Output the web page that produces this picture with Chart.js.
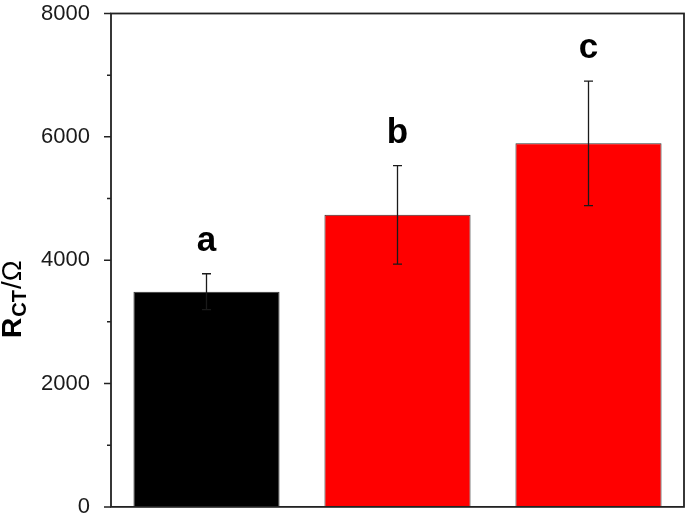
<!DOCTYPE html>
<html>
<head>
<meta charset="utf-8">
<script src="https://cdn.jsdelivr.net/npm/chart.js@4"></script>
<style>
  body { margin: 0; background: #fff; }
</style>
</head>
<body>
<canvas id="rctChart" width="688" height="520"></canvas>
<script>
// Data
const samples = ['a', 'b', 'c'];
const rctValues = [3490, 4735, 5895];
const rctErrors = [290, 800, 1010];
const barColors = ['#000000', '#ff0000', '#ff0000'];
const yTicks = [0, 2000, 4000, 6000, 8000];
const yMinorTicks = [1000, 3000, 5000, 7000];

// error bars, letters above bars, frame + ticks, axis title
const extras = {
    id: 'extras',
    afterDatasetsDraw(chart) {
        const ctx = chart.ctx;
        const y = chart.scales.y;
        const area = chart.chartArea;
        const meta = chart.getDatasetMeta(0);

        ctx.save();
        meta.data.forEach(function (bar, i) {
            const x = bar.x;
            const top = y.getPixelForValue(rctValues[i] + rctErrors[i]);
            const bot = y.getPixelForValue(rctValues[i] - rctErrors[i]);
            ctx.strokeStyle = '#1a1a1a';
            ctx.lineWidth = 1.3;
            ctx.beginPath();
            ctx.moveTo(x, top); ctx.lineTo(x, bot);
            ctx.moveTo(x - 4.5, top); ctx.lineTo(x + 4.5, top);
            ctx.moveTo(x - 4.5, bot); ctx.lineTo(x + 4.5, bot);
            ctx.stroke();

            ctx.fillStyle = '#000';
            ctx.font = 'bold 35px "Liberation Sans", Arial, sans-serif';
            ctx.textAlign = 'center';
            ctx.textBaseline = 'alphabetic';
            ctx.fillText(samples[i], x, top - 23);
        });

        // frame
        ctx.strokeStyle = '#222';
        ctx.lineWidth = 1.8;
        ctx.strokeRect(area.left, area.top, area.right - area.left, area.bottom - area.top);

        // ticks
        ctx.lineWidth = 1.5;
        ctx.beginPath();
        yTicks.forEach(function (v) {
            const py = y.getPixelForValue(v);
            ctx.moveTo(area.left - 7, py); ctx.lineTo(area.left, py);
        });
        yMinorTicks.forEach(function (v) {
            const py = y.getPixelForValue(v);
            ctx.moveTo(area.left - 4, py); ctx.lineTo(area.left, py);
        });
        ctx.stroke();

        // y title: R_CT / Ω
        ctx.translate(21, 338);
        ctx.rotate(-Math.PI / 2);
        ctx.textAlign = 'left';
        ctx.fillStyle = '#000';
        let cx = 0;
        ctx.font = 'bold 28px "Liberation Sans", Arial, sans-serif';
        ctx.fillText('R', cx, 0);
        cx += ctx.measureText('R').width + 1;
        ctx.font = 'bold 20px "Liberation Sans", Arial, sans-serif';
        ctx.fillText('CT', cx, 5);
        cx += ctx.measureText('CT').width + 1;
        ctx.font = '28px "Liberation Sans", Arial, sans-serif';
        ctx.fillText('/\u03A9', cx, 0);
        ctx.restore();
    }
};

new Chart(document.getElementById('rctChart'), {
    type: 'bar',
    data: {
        labels: samples,
        datasets: [{
            data: rctValues,
            backgroundColor: barColors,
            borderColor: '#333',
            borderWidth: 1,
            categoryPercentage: 1,
            barPercentage: 0.765
        }]
    },
    options: {
        responsive: false,
        animation: false,
        layout: { padding: { left: 0, top: 13.5, right: 4, bottom: 11 } },
        plugins: {
            legend: { display: false },
            tooltip: { enabled: false }
        },
        scales: {
            x: { display: false },
            y: {
                min: 0,
                max: 8000,
                afterFit: function (scale) { scale.width = 111; },
                afterBuildTicks: function (scale) {
                    scale.ticks = yTicks.map(function (v) { return { value: v }; });
                },
                grid: { display: false },
                border: { display: false },
                ticks: {
                    padding: 13,
                    color: '#1a1a1a',
                    callback: function (v) { return String(v); },
                    font: { family: '"Liberation Sans", Arial, sans-serif', size: 22, lineHeight: 0.01 }
                }
            }
        }
    },
    plugins: [extras]
});
</script>
</body>
</html>
